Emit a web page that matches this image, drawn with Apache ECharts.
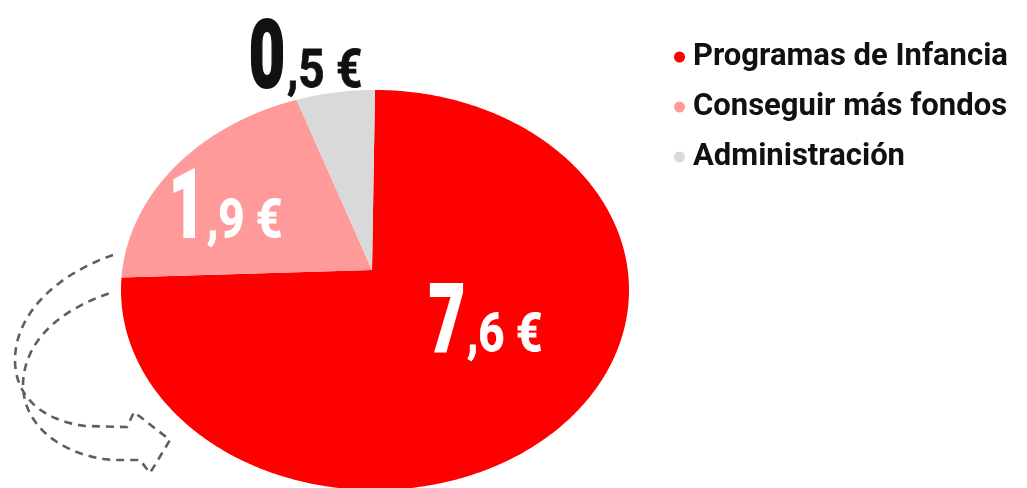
<!DOCTYPE html>
<html><head><meta charset="utf-8">
<script src="https://cdn.jsdelivr.net/npm/echarts@6/dist/echarts.min.js"></script>
<style>html,body{margin:0;padding:0;background:#fff}#c{width:1027px;height:488px}</style>
</head><body><div id="c"></div>
<script>
const categories = ['Programas de Infancia', 'Conseguir más fondos', 'Administración'];
const values = [7.6, 1.9, 0.5];
const colors = ['#ff0000', '#ff9a9a', '#d9d9d9'];
const labelColors = ['#ffffff', '#ffffff', '#111111'];

const total = values.reduce((a, b) => a + b, 0);
// layout (pixels)
const ELL = {cx: 375, cy: 290, rx: 254, ry: 200};
const APEX = [372, 270];
const LABEL_ANCHOR = [[93, 82], [-167, -32], [-87, -182]];
const BIG = 94, SMALL = 54, MID = 0.26;

function renderSlice(params, api) {
  const i = params.seriesIndex;
  const v = api.value(1);
  let cum = 0;
  for (let k = 0; k < i; k++) cum += values[k];
  const a0 = -Math.PI / 2 + 2 * Math.PI * cum / total;
  const a1 = a0 + 2 * Math.PI * v / total;
  const pts = [APEX.slice()];
  const n = Math.max(2, Math.ceil((a1 - a0) / (Math.PI / 360)));
  for (let s = 0; s <= n; s++) {
    const a = a0 + (a1 - a0) * s / n;
    pts.push([ELL.cx + ELL.rx * Math.cos(a), ELL.cy + ELL.ry * Math.sin(a)]);
  }
  const parts = v.toFixed(1).split('.');
  const jx = APEX[0] + LABEL_ANCHOR[i][0];
  const by = APEX[1] + LABEL_ANCHOR[i][1];
  const col = labelColors[i];
  return {
    type: 'group',
    children: [
      {type: 'polygon', shape: {points: pts}, style: {fill: api.visual('color')}},
      {type: 'text', x: jx, y: by - MID * BIG, scaleX: 0.66,
        style: {text: parts[0], fill: col, stroke: col, lineWidth: 2, fontSize: BIG, fontWeight: 900, fontFamily: 'Roboto', align: 'right', verticalAlign: 'middle'}},
      {type: 'text', x: jx + 2, y: by - MID * SMALL, scaleX: 0.85,
        style: {text: ',' + parts[1] + ' €', fill: col, stroke: col, lineWidth: 0.8, fontSize: SMALL, fontWeight: 'bold', fontFamily: 'Roboto', align: 'left', verticalAlign: 'middle'}}
    ]
  };
}

// decorative dashed arrow (cubic segments sampled to a polyline)
function arrowPoints() {
  const segs = [
    ['M', 113, 255],
    ['C', 55, 275, 15, 315, 15, 360],
    ['C', 15, 395, 40, 420, 85, 426],
    ['L', 127, 427], ['L', 134, 412], ['L', 170, 440], ['L', 150, 473], ['L', 140, 460], ['L', 115, 460],
    ['C', 70, 458, 22, 430, 23, 383],
    ['C', 25, 340, 60, 310, 110, 293]
  ];
  const out = [];
  let p = null;
  segs.forEach(s => {
    if (s[0] === 'M' || s[0] === 'L') { p = [s[1], s[2]]; out.push(p); }
    else {
      const [x1, y1, x2, y2, x3, y3] = s.slice(1);
      const [x0, y0] = p;
      for (let k = 1; k <= 24; k++) {
        const t = k / 24, u = 1 - t;
        out.push([u*u*u*x0 + 3*u*u*t*x1 + 3*u*t*t*x2 + t*t*t*x3, u*u*u*y0 + 3*u*u*t*y1 + 3*u*t*t*y2 + t*t*t*y3]);
      }
      p = [x3, y3];
    }
  });
  return out;
}

const chart = echarts.init(document.getElementById('c'), null, {renderer: 'canvas'});
chart.setOption({
  animation: false,
  backgroundColor: '#ffffff',
  grid: {left: 0, right: 0, top: 0, bottom: 0, show: false},
  xAxis: {type: 'value', show: false},
  yAxis: {type: 'value', show: false},
  legend: {
    data: categories, orient: 'vertical', left: 669, top: 36,
    icon: 'circle', itemWidth: 11, itemHeight: 11, itemGap: 18, selectedMode: false,
    textStyle: {fontSize: 31, fontWeight: 'bold', color: '#111', fontFamily: 'Roboto', lineHeight: 32, padding: [0, 0, 0, 3]}
  },
  graphic: [
    {type: 'polyline', silent: true, shape: {points: arrowPoints()},
      style: {fill: 'none', stroke: '#5f5f5f', lineWidth: 2.6, lineDash: [8, 6]}}
  ],
  series: categories.map((name, i) => ({
    type: 'custom', name, silent: true, clip: false,
    data: [[i, values[i]]], itemStyle: {color: colors[i]}, renderItem: renderSlice
  }))
});
</script></body></html>
